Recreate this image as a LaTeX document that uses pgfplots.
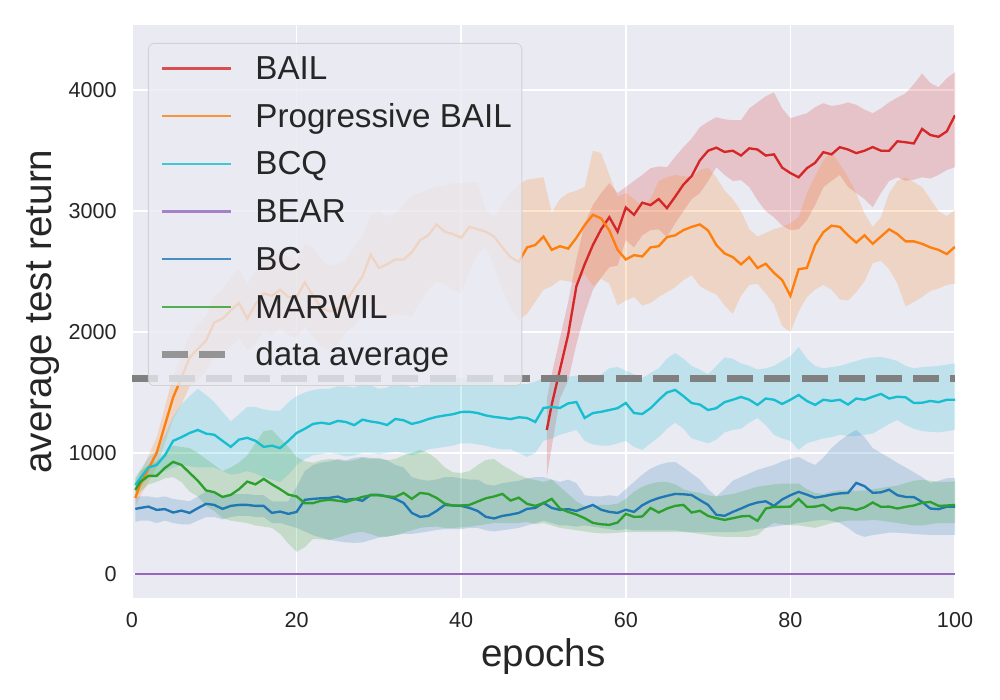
\documentclass[border=0pt]{standalone}
\usepackage{fontspec}
\setmainfont{Liberation Sans}
\usepackage{pgfplots}
\pgfplotsset{compat=1.18}
\usepackage{pgfplotstable}
\usepgfplotslibrary{fillbetween}
\definecolor{tabred}{HTML}{D62728}
\definecolor{taborange}{HTML}{FF7F0E}
\definecolor{tabcyan}{HTML}{17BECF}
\definecolor{tabpurple}{HTML}{9467BD}
\definecolor{tabblue}{HTML}{1F77B4}
\definecolor{tabgreen}{HTML}{2CA02C}
\definecolor{axisbg}{HTML}{EAEAF2}
\definecolor{textc}{RGB}{38,38,38}
\definecolor{avgc}{RGB}{128,128,128}

\pgfplotstableread{
x m lo hi
50.4 1190 800 1450
51 1400 1050 1650
52 1690 1450 1950
53 1980 1600 2250
54 2380 1900 2600
55 2560 2150 2900
56 2720 2350 3050
57 2850 2450 3150
58 2950 2537 3231
59 2830 2550 3150
60 3030 2760 3200
61 2970 2700 3250
62 3070 2800 3300
63 3050 2843 3355
64 3100 2850 3370
65 3025 2785 3364
66 3120 2900 3450
67 3220 3000 3529
68 3290 3100 3600
69 3420 3149 3694
70 3500 3250 3740
71 3525 3364 3777
72 3490 3300 3760
73 3500 3250 3752
74 3460 3256 3752
75 3520 3200 3850
76 3510 3091 3900
77 3460 3000 3950
78 3470 2950 3983
79 3360 2880 3850
80 3315 2843 3768
81 3280 2850 3790
82 3355 2925 3810
83 3400 3050 3860
84 3488 3198 3893
85 3470 3250 3870
86 3529 3300 3880
87 3510 3200 3900
88 3480 3150 3880
89 3500 3100 3840
90 3530 3033 3810
91 3500 3150 3850
92 3500 3250 3900
93 3578 3280 3940
94 3570 3250 3975
95 3560 3260 4050
96 3680 3281 4140
97 3630 3270 4060
98 3615 3300 4025
99 3660 3340 4100
100 3793 3364 4150
}\bail

\pgfplotstableread{
x m lo hi
0.4 628 560 700
1 740 640 830
2 870 760 980
3 1000 880 1130
4 1230 1080 1380
5 1460 1280 1640
6 1620 1400 1800
7 1790 1550 1980
8 1860 1600 2060
9 1930 1680 2130
10 2080 1800 2300
11 2110 1830 2350
12 2180 1880 2450
13 2240 1950 2520
14 2110 1850 2400
15 2230 1900 2500
16 2320 2000 2620
17 2300 1980 2620
18 2350 2030 2670
19 2290 1980 2620
20 2290 1950 2600
21 2410 2050 2720
22 2300 1960 2700
23 2200 1880 2600
24 2170 1850 2550
25 2190 1900 2560
26 2250 2000 2600
27 2360 2050 2700
28 2460 2150 2800
29 2640 2250 2960
30 2530 2150 3000
31 2560 2120 2950
32 2600 2150 2980
33 2600 2140 3050
34 2660 2130 3130
35 2760 2250 3150
36 2800 2350 3180
37 2890 2420 3200
38 2830 2400 3210
39 2810 2350 3230
40 2780 2320 3230
41 2870 2500 3240
42 2850 2650 3240
43 2830 2700 3000
44 2790 2550 2950
45 2700 2350 3050
46 2620 2200 3150
47 2580 2100 3220
48 2700 2150 3260
49 2720 2250 3270
50 2790 2350 3280
51 2680 2380 2990
52 2710 2430 3100
53 2690 2420 3150
54 2780 2400 3170
55 2884 2480 3200
56 2970 2380 3500
57 2940 2440 3480
58 2840 2400 3300
59 2680 2220 3120
60 2600 2260 3150
61 2636 2290 3100
62 2625 2220 3040
63 2700 2240 3100
64 2710 2290 3250
65 2785 2330 3280
66 2800 2370 3300
67 2843 2430 3290
68 2870 2470 3280
69 2890 2380 3340
70 2840 2340 3360
71 2720 2310 3280
72 2650 2220 3170
73 2620 2150 3100
74 2560 2300 3000
75 2620 2390 2850
76 2530 2400 2790
77 2565 2320 2820
78 2490 2230 2850
79 2430 2050 2870
80 2300 2000 2900
81 2520 2170 2950
82 2530 2290 3150
83 2720 2350 3290
84 2826 2390 3420
85 2880 2350 3490
86 2870 2270 3390
87 2800 2260 3280
88 2740 2330 3150
89 2800 2420 2980
90 2730 2570 2870
91 2790 2590 2950
92 2850 2520 3150
93 2810 2400 3250
94 2750 2210 3280
95 2750 2250 3240
96 2730 2290 3200
97 2700 2340 3100
98 2680 2360 3000
99 2645 2390 2960
100 2705 2400 3010
}\pbail

\pgfplotstableread{
x m lo hi
0.4 735 680 800
1 790 720 860
2 880 800 960
3 900 820 1020
4 980 850 1150
5 1100 880 1300
6 1130 900 1400
7 1165 890 1470
8 1190 880 1530
9 1160 880 1480
10 1150 880 1420
11 1100 850 1340
12 1050 820 1260
13 1110 830 1320
14 1125 850 1380
15 1100 830 1380
16 1050 800 1360
17 1060 780 1350
18 1040 760 1350
19 1100 820 1420
20 1165 900 1470
21 1200 950 1500
22 1240 980 1520
23 1250 990 1530
24 1240 1000 1530
25 1265 990 1550
26 1256 970 1550
27 1230 980 1540
28 1275 1000 1570
29 1260 1000 1560
30 1250 990 1530
31 1231 1000 1540
32 1281 1010 1580
33 1270 1000 1570
34 1240 980 1540
35 1256 1000 1550
36 1280 1030 1570
37 1298 1040 1590
38 1310 1050 1600
39 1320 1060 1610
40 1339 1080 1620
41 1340 1080 1610
42 1330 1070 1600
43 1310 1060 1590
44 1298 1040 1580
45 1290 1030 1570
46 1280 1030 1560
47 1295 1000 1570
48 1289 967 1570
49 1256 1000 1590
50 1372 1100 1620
51 1380 1120 1620
52 1372 1150 1620
53 1410 1170 1630
54 1421 1190 1640
55 1289 1100 1610
56 1330 1070 1600
57 1340 1060 1650
58 1355 1060 1700
59 1370 1080 1711
60 1413 1100 1680
61 1330 1050 1650
62 1322 1025 1620
63 1370 1080 1660
64 1438 1130 1700
65 1500 1200 1780
66 1521 1250 1826
67 1470 1200 1780
68 1413 1120 1720
69 1400 1100 1690
70 1355 1080 1650
71 1370 1110 1720
72 1420 1170 1790
73 1440 1190 1780
74 1463 1200 1740
75 1440 1250 1720
76 1397 1289 1690
77 1450 1230 1700
78 1440 1150 1720
79 1405 1120 1760
80 1440 1100 1800
81 1479 1025 1876
82 1430 1080 1780
83 1397 1100 1720
84 1440 1120 1700
85 1430 1130 1710
86 1440 1150 1720
87 1400 1140 1740
88 1450 1140 1760
89 1440 1150 1780
90 1465 1160 1790
91 1488 1200 1793
92 1450 1240 1780
93 1465 1273 1760
94 1460 1230 1720
95 1413 1200 1700
96 1415 1180 1710
97 1430 1175 1715
98 1420 1170 1720
99 1440 1180 1730
100 1440 1190 1740
}\bcq

\pgfplotstableread{
x m lo hi
0.4 537 430 640
1 545 440 640
2 556 440 640
3 529 420 630
4 535 440 640
5 507 420 620
6 523 410 610
7 504 410 600
8 543 440 640
9 579 470 680
10 570 470 670
11 537 450 640
12 562 470 660
13 570 480 660
14 570 480 660
15 562 470 650
16 562 470 650
17 504 420 600
18 515 420 600
19 496 400 600
20 512 380 720
21 612 350 850
22 620 320 900
23 625 300 920
24 628 281 930
25 639 270 950
26 612 260 940
27 620 256 960
28 604 260 967
29 653 280 960
30 653 300 950
31 640 306 940
32 620 320 900
33 587 330 880
34 504 330 800
35 471 340 780
36 479 350 770
37 520 363 780
38 570 370 800
39 565 370 800
40 562 370 790
41 545 380 780
42 520 380 780
43 471 360 740
44 458 350 730
45 479 360 750
46 490 370 760
47 504 380 770
48 537 400 790
49 545 420 800
50 587 440 800
51 545 420 780
52 529 400 760
53 535 400 780
54 520 390 750
55 545 400 650
56 570 390 640
57 530 380 640
58 512 370 650
59 504 360 640
60 530 370 700
61 512 360 760
62 567 360 820
63 603 360 870
64 627 360 900
65 645 360 920
66 661 360 925
67 658 350 880
68 652 345 830
69 610 345 780
70 570 345 700
71 488 345 640
72 480 345 700
73 512 345 770
74 540 350 800
75 570 360 830
76 590 370 860
77 600 380 880
78 562 390 900
79 615 400 930
80 650 410 950
81 678 421 967
82 655 430 930
83 630 440 900
84 641 446 960
85 655 440 1040
86 665 420 1100
87 669 380 1150
88 752 330 1190
89 725 306 1130
90 670 320 1040
91 674 330 1000
92 696 340 960
93 650 340 917
94 636 335 880
95 634 330 840
96 595 325 800
97 540 322 752
98 535 322 770
99 555 322 790
100 554 322 793
}\bc

\pgfplotstableread{
x m lo hi
0.4 694 620 780
1 760 680 850
2 810 740 900
3 810 760 930
4 876 790 1000
5 926 800 1060
6 901 760 1050
7 835 680 1040
8 770 640 1000
9 690 560 950
10 675 520 900
11 636 460 850
12 653 440 880
13 700 430 920
14 763 420 980
15 740 400 1080
16 785 390 1180
17 740 380 1190
18 700 330 1120
19 655 250 1050
20 640 182 967
21 585 220 930
22 585 290 920
23 605 285 940
24 612 280 950
25 605 300 940
26 595 320 930
27 615 340 940
28 636 347 960
29 650 330 950
30 650 306 960
31 640 310 940
32 636 320 950
33 669 340 980
34 620 360 1000
35 669 380 1025
36 661 388 1000
37 628 390 950
38 580 380 880
39 565 380 840
40 565 385 835
41 570 390 850
42 598 400 900
43 625 410 942
44 640 421 950
45 661 420 900
46 606 420 860
47 630 420 820
48 579 430 790
49 562 410 777
50 585 420 760
51 620 400 780
52 540 380 720
53 512 370 660
54 490 360 600
55 460 350 560
56 421 340 560
57 410 335 570
58 405 335 570
59 424 340 580
60 496 345 620
61 471 345 680
62 474 345 720
63 545 345 745
64 507 345 760
65 540 345 760
66 562 345 740
67 570 345 700
68 507 340 680
69 521 330 670
70 479 320 650
71 460 310 640
72 446 306 650
73 460 306 660
74 475 306 680
75 479 306 700
76 438 320 720
77 540 380 730
78 554 421 740
79 554 410 746
80 556 400 746
81 620 400 746
82 554 390 700
83 556 380 670
84 570 400 660
85 523 420 680
86 548 430 690
87 543 440 690
88 529 440 686
89 550 440 690
90 590 446 700
91 554 440 710
92 556 430 720
93 540 420 730
94 554 410 750
95 565 400 770
96 587 400 777
97 595 410 770
98 562 420 760
99 565 420 760
100 570 420 765
}\marwil

\begin{document}
\begin{tikzpicture}
\begin{axis}[
  scale only axis,
  width=411.5pt, height=286.5pt,
  xmin=0, xmax=100, ymin=-200, ymax=4540,
  enlargelimits=false,
  axis background/.style={fill=axisbg},
  axis line style={draw=none},
  major tick length=0pt,
  grid=major,
  grid style={white, line width=0.78pt},
  xtick={0,20,40,60,80,100},
  ytick={0,1000,2000,3000,4000},
  /pgf/number format/1000 sep={},
  /pgf/number format/assume math mode=true,
  ticklabel style={font=\fontsize{10.8}{13}\selectfont, text=textc},
  xticklabel style={inner sep=0pt, anchor=north, yshift=-7pt},
  yticklabel style={inner sep=0pt, anchor=east, xshift=-7.5pt},
  xlabel={epochs},
  ylabel={average test return},
  label style={font=\fontsize{19.3}{23}\selectfont, text=textc},
  xlabel style={at={(axis description cs:0.5,-0.1187)}, anchor=base},
  ylabel style={at={(axis description cs:-0.0977,0.5)}, anchor=base},
  legend cell align=left,
  legend image code/.code={\draw[#1] (0pt,1.5pt) -- (34.5pt,1.5pt);},
  legend style={at={(0.0194,0.9686)}, anchor=north west,
    draw=black!20, draw opacity=0.8, fill=axisbg, fill opacity=0.8, text opacity=1,
    rounded corners=3pt,
    font=\fontsize{16.6}{19}\selectfont, text=textc,
    inner xsep=5pt, inner ysep=6.5pt, row sep=8.85pt,
    nodes={inner sep=0pt, text height=11.6pt, text depth=3.4pt},
    /tikz/every odd column/.append style={column sep=10.5pt}},
]
% BAIL
\addplot[name path=bailhi, draw=none, forget plot] table[x=x,y=hi]{\bail};
\addplot[name path=baillo, draw=none, forget plot] table[x=x,y=lo]{\bail};
\addplot[fill=tabred, fill opacity=0.2, draw=none, forget plot] fill between[of=bailhi and baillo];
\addplot[tabred, line width=1.17pt] table[x=x,y=m]{\bail};
\addlegendentry{BAIL}
% Progressive BAIL
\addplot[name path=pbhi, draw=none, forget plot] table[x=x,y=hi]{\pbail};
\addplot[name path=pblo, draw=none, forget plot] table[x=x,y=lo]{\pbail};
\addplot[fill=taborange, fill opacity=0.2, draw=none, forget plot] fill between[of=pbhi and pblo];
\addplot[taborange, line width=1.17pt] table[x=x,y=m]{\pbail};
\addlegendentry{Progressive BAIL}
% BCQ
\addplot[name path=bcqhi, draw=none, forget plot] table[x=x,y=hi]{\bcq};
\addplot[name path=bcqlo, draw=none, forget plot] table[x=x,y=lo]{\bcq};
\addplot[fill=tabcyan, fill opacity=0.2, draw=none, forget plot] fill between[of=bcqhi and bcqlo];
\addplot[tabcyan, line width=1.17pt] table[x=x,y=m]{\bcq};
\addlegendentry{BCQ}
% BEAR
\addplot[tabpurple, line width=1.17pt] coordinates {(0.4,0) (100,0)};
\addlegendentry{BEAR}
% BC
\addplot[name path=bchi, draw=none, forget plot] table[x=x,y=hi]{\bc};
\addplot[name path=bclo, draw=none, forget plot] table[x=x,y=lo]{\bc};
\addplot[fill=tabblue, fill opacity=0.2, draw=none, forget plot] fill between[of=bchi and bclo];
\addplot[tabblue, line width=1.17pt] table[x=x,y=m]{\bc};
\addlegendentry{BC}
% MARWIL
\addplot[name path=mwhi, draw=none, forget plot] table[x=x,y=hi]{\marwil};
\addplot[name path=mwlo, draw=none, forget plot] table[x=x,y=lo]{\marwil};
\addplot[fill=tabgreen, fill opacity=0.2, draw=none, forget plot] fill between[of=mwhi and mwlo];
\addplot[tabgreen, line width=1.17pt] table[x=x,y=m]{\marwil};
\addlegendentry{MARWIL}
% data average
\addplot[avgc, line width=3.5pt, dash pattern=on 13pt off 5.6pt] coordinates {(0,1617) (100,1617)};
\addlegendentry{data average}
\coordinate (sw) at (rel axis cs:0,0);
\coordinate (ne) at (rel axis cs:1,1);
\end{axis}
\path (sw) ++(-66pt,-51pt) coordinate (bbl);
\path (ne) ++(22.5pt,12.5pt) coordinate (btr);
\pgfresetboundingbox
\path[use as bounding box] (bbl) rectangle (btr);
\end{tikzpicture}
\end{document}
